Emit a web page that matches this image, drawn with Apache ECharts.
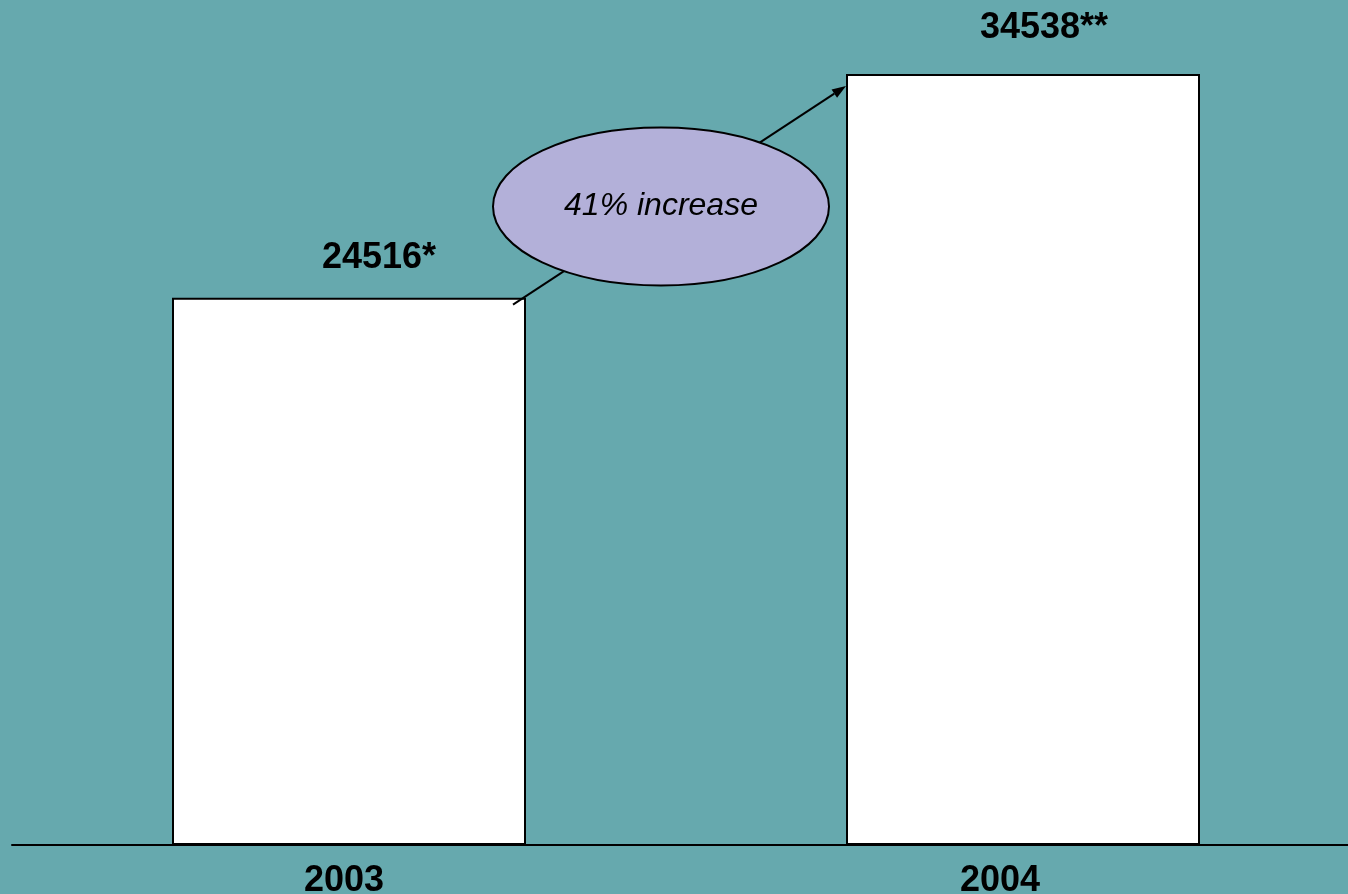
<!DOCTYPE html>
<html>
<head>
<meta charset="utf-8">
<script src="https://cdn.jsdelivr.net/npm/echarts@6/dist/echarts.min.js"></script>
<style>
html,body{margin:0;padding:0;background:#66A9AE;}
#chart{width:1348px;height:894px;}
</style>
</head>
<body>
<div id="chart"></div>
<script>
const years = ['2003', '2004'];
const counts = [24516, 34538];
const countMarks = ['*', '**'];
const increaseText = '41% increase';

const chart = echarts.init(document.getElementById('chart'), null, {renderer: 'canvas'});
const font = 'Arial, "Liberation Sans", sans-serif';
const labelOffsets = [[30, -22], [21, -28]];

chart.setOption({
  backgroundColor: '#66A9AE',
  animation: false,
  grid: [
    {left: 12, top: 0, right: -12, bottom: 49, outerBoundsMode: 'none', containLabel: false},
    {left: 16, top: 0, right: 20, bottom: 49, outerBoundsMode: 'none', containLabel: false}
  ],
  xAxis: [
    {type: 'category', gridIndex: 0, data: years,
     axisLine: {show: true, lineStyle: {color: '#000', width: 2}},
     axisTick: {show: false}, axisLabel: {show: false}},
    {type: 'category', gridIndex: 1, data: years,
     axisLine: {show: false}, axisTick: {show: false},
     axisLabel: {show: true, margin: 18, color: '#000', fontSize: 36, fontWeight: 'bold', fontFamily: font, lineHeight: 36}}
  ],
  yAxis: [
    {type: 'value', gridIndex: 0, min: 0, max: 37850, show: false},
    {type: 'value', gridIndex: 1, min: 0, max: 37850, show: false}
  ],
  series: [{
    type: 'bar',
    xAxisIndex: 0, yAxisIndex: 0,
    barWidth: 354,
    itemStyle: {color: '#ffffff', borderColor: '#000', borderWidth: 2},
    label: {
      show: true, position: 'top', distance: 0,
      color: '#000', fontSize: 36, fontWeight: 'bold', fontFamily: font, lineHeight: 36,
      formatter: p => p.value + countMarks[p.dataIndex]
    },
    data: counts.map((v, i) => ({value: v, label: {offset: labelOffsets[i]}}))
  }]
});

// annotation: arrow from the 2003 bar to the 2004 bar with an ellipse callout
const barHalf = 177;
const p0 = chart.convertToPixel({xAxisIndex: 0, yAxisIndex: 0}, [0, counts[0]]);
const p1 = chart.convertToPixel({xAxisIndex: 0, yAxisIndex: 0}, [1, counts[1]]);
const start = [p0[0] + barHalf - 13, p0[1] + 7];
const end = [p1[0] - barHalf, p1[1] + 12];
const ang = Math.atan2(end[1] - start[1], end[0] - start[0]);
const headLen = 14, headW = 5;
const tip = end;
const base = [end[0] - headLen * Math.cos(ang), end[1] - headLen * Math.sin(ang)];
const left = [base[0] + headW * Math.sin(ang), base[1] - headW * Math.cos(ang)];
const right = [base[0] - headW * Math.sin(ang), base[1] + headW * Math.cos(ang)];
const ex = start[0] + 148;
const ey = start[1] + (end[1] - start[1]) * (148 / (end[0] - start[0]));

chart.setOption({
  graphic: [
    {type: 'line', shape: {x1: start[0], y1: start[1], x2: base[0], y2: base[1]},
     style: {stroke: '#000', lineWidth: 2}, z: 10},
    {type: 'polygon', shape: {points: [tip, left, right]}, style: {fill: '#000'}, z: 10},
    {type: 'ellipse', shape: {cx: ex, cy: ey - 1, rx: 168, ry: 79},
     style: {fill: '#B3B0D9', stroke: '#000', lineWidth: 2}, z: 11},
    {type: 'text', x: ex, y: ey - 1, z: 12,
     style: {text: increaseText, fill: '#000', font: 'italic 32px Arial, "Liberation Sans", sans-serif',
             align: 'center', verticalAlign: 'middle'}}
  ]
});
</script>
</body>
</html>
